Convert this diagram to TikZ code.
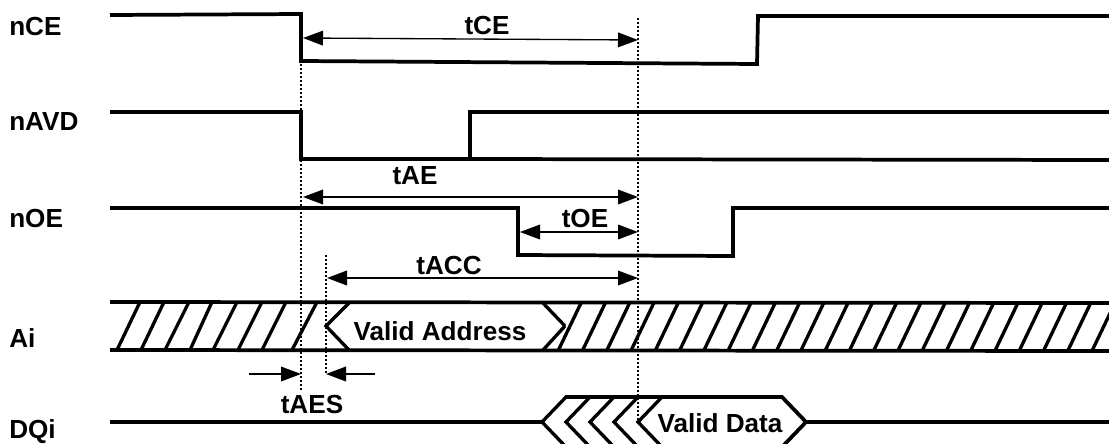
\documentclass[tikz,border=0pt]{standalone}
\usepackage{fontspec}
\setmainfont{Liberation Sans}
\usepackage{tikz}
\usetikzlibrary{arrows.meta}

\tikzset{
    wave/.style={line width=2.8pt},
    hatchline/.style={line width=2.5pt},
    dimline/.style={line width=1pt,{Triangle[length=15pt,width=11pt]}-{Triangle[length=15pt,width=11pt]}},
    dimright/.style={line width=1pt,-{Triangle[length=15pt,width=11pt]}},
    guide/.style={line width=1pt,dash pattern=on 1.5pt off 1.5pt},
    lbl/.style={font=\bfseries\fontsize{19.6}{22}\selectfont,inner sep=0pt}
}

\begin{document}
\begin{tikzpicture}[x=0.75pt,y=-0.75pt]
            \useasboundingbox (0,0) rectangle (1109,443);

            % Senales nCE, nAVD y nOE
            \draw[wave] (110,15) -- (301,14) -- (301,61) -- (757,64) -- (758,16) -- (1109,16);
            \draw[wave] (110,112) -- (301,112) -- (301,159) -- (470,159) -- (470,112) -- (1109,112);
            \draw[wave] (470,159) -- (1109,160);
            \draw[wave] (110,208) -- (518,208) -- (518,255) -- (733,256) -- (733,208) -- (1109,208);

            % Bus Ai
            \draw[wave] (110,302) -- (1109,303);
            \draw[wave] (110,350) -- (1109,351);
            \foreach \xa/\xb in {117/140,141/164,165/189,190/212,213/237,238/262,262/286,292/317}
                \draw[hatchline] (\xa,350) -- (\xb,302);
            \foreach \i in {0,...,22}
                \draw[hatchline] ({558+24.27*\i},351) -- ({581+24.27*\i},303);
            \draw[hatchline] (350,302) -- (326,326) -- (349,350);
            \draw[hatchline] (542,302) -- (565,326);
            \draw[hatchline] (543,350) -- (565,326);

            % Bus DQi
            \draw[wave] (110,422) -- (542,422);
            \draw[wave] (806,422) -- (1109,422);
            \draw[wave] (565,397) -- (782,397) -- (806,422) -- (782,447);
            \foreach \xa in {542,566,590,614,638}
                \draw[hatchline] (\xa+24,397) -- (\xa,422) -- (\xa+24,447);

            % Lineas guia
            \coordinate (gaT) at (301,60);
            \coordinate (gaB) at (301,392);
            \coordinate (gbT) at (326,255);
            \coordinate (gbB) at (326,374);
            \coordinate (gcT) at (638,18);
            \coordinate (gcB) at (638,422);
            \draw[guide] (gaT) -- (gaB);
            \draw[guide] (gbT) -- (gbB);
            \draw[guide] (gcT) -- (gcB);

            % Cotas
            \coordinate (tceL) at (303,38);
            \coordinate (tceR) at (638,40);
            \coordinate (taeL) at (303,197);
            \coordinate (taeR) at (638,197);
            \coordinate (toeL) at (520,232);
            \coordinate (toeR) at (638,232);
            \coordinate (taccL) at (327,278);
            \coordinate (taccR) at (638,278);
            \coordinate (taesA) at (249,374);
            \coordinate (taesB) at (301,374);
            \coordinate (taesC) at (375,374);
            \coordinate (taesD) at (326,374);
            \draw[dimline] (tceL) -- (tceR);
            \draw[dimline] (taeL) -- (taeR);
            \draw[dimline] (toeL) -- (toeR);
            \draw[dimline] (taccL) -- (taccR);
            \draw[dimright] (taesA) -- (taesB);
            \draw[dimright] (taesC) -- (taesD);

            % Etiquetas de las senales
            \node (nce) at (9,27) [lbl,anchor=west] {nCE};
            \node (navd) at (9,122) [lbl,anchor=west] {nAVD};
            \node (noe) at (9,218) [lbl,anchor=west] {nOE};
            \node (ai) at (9,338) [lbl,anchor=west] {Ai};
            \node (dqi) at (9,432) [lbl,anchor=west] {DQi};

            % Etiquetas de los tiempos
            \node (tce) at (487,26) [lbl] {tCE};
            \node (tae) at (415,176) [lbl] {tAE};
            \node (toe) at (585,218) [lbl] {tOE};
            \node (tacc) at (449,265) [lbl] {tACC};
            \node (taes) at (312,404) [lbl] {tAES};

            % Etiquetas de los datos
            \node (vaddr) at (440,331) [lbl] {Valid Address};
            \node (vdata) at (720,423) [lbl] {Valid Data};
        \end{tikzpicture}
\end{document}
